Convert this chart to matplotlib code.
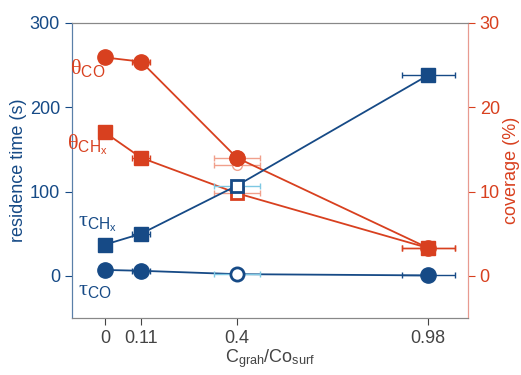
import numpy as np
import matplotlib.pyplot as plt

plt.rcParams['font.family'] = ['Liberation Sans', 'DejaVu Sans']
plt.rcParams['mathtext.fontset'] = 'custom'
plt.rcParams['mathtext.rm'] = 'Liberation Serif'
plt.rcParams['mathtext.sf'] = 'Liberation Sans'
plt.rcParams['mathtext.it'] = 'Liberation Serif:italic'

navy = '#164a86'
red = '#d8401f'
light_blue = '#7ec8e3'
light_red = '#f0a08c'

ratio = [0, 0.11, 0.4, 0.98]
ratio_err = [0, 0.027, 0.05, 0.08]
ratio_err_alt = 0.07

# residence times (s)
tau_co = [7, 6, 2, 0.5]
tau_chx = [37, 50, 107, 238]
# coverages (%)
theta_co = [25.9, 25.4, 14.0, 3.3]
theta_co_alt = 13.1
theta_chx = [17.0, 14.0, 9.8, 3.3]

fig = plt.figure(figsize=(5.21, 3.75), dpi=100)
ax = fig.add_axes([0.138, 0.152, 0.76, 0.787])
ax2 = ax.twinx()


def draw(axis, y, color, marker, open_color, ms):
    axis.plot(ratio, y, '-', color=color, lw=1.3, zorder=2)
    # filled points with x error bars
    for i in [0, 1, 3]:
        axis.errorbar(ratio[i], y[i], xerr=ratio_err[i] if ratio_err[i] else None,
                      fmt=marker, color=color, ms=ms, capsize=2.5, elinewidth=1,
                      zorder=3)
    # open point at 0.4 with lighter error bar
    axis.errorbar(ratio[2], y[2], xerr=ratio_err_alt, fmt='none',
                  ecolor=open_color, elinewidth=1, capsize=2.5, zorder=3)
    axis.plot(ratio[2], y[2], marker, mfc='white', mec=color, mew=2,
              ms=ms - 1.5, zorder=4)


draw(ax2, theta_co, red, 'o', light_red, 11)
ax2.errorbar(ratio[2], theta_co_alt, xerr=ratio_err_alt, fmt='o', mfc='white',
             mec=light_red, ecolor=light_red, ms=7, capsize=2.5, elinewidth=1,
             zorder=1)
ax2.plot(ratio[2], theta_co[2], 'o', color=red, ms=11, zorder=4)
draw(ax2, theta_chx, red, 's', light_red, 9.5)
draw(ax, tau_co, navy, 'o', light_blue, 11)
draw(ax, tau_chx, navy, 's', light_blue, 9.5)

ax.set_zorder(ax2.get_zorder() + 1)
ax.patch.set_visible(False)

ax.set_xlim(-0.1, 1.1)
ax.set_ylim(-50, 300)
ax2.set_ylim(-5, 30)
ax.set_xticks(ratio)
ax.set_xticklabels(['0', '0.11', '0.4', '0.98'])
ax.set_yticks([0, 100, 200, 300])
ax2.set_yticks([0, 10, 20, 30])

ax.tick_params(axis='x', colors='#444444', labelsize=13, length=5)
ax.tick_params(axis='y', colors=navy, labelsize=13, length=5)
ax2.tick_params(axis='y', colors=red, labelsize=13, length=5)
ax.set_ylabel('residence time (s)', color=navy, fontsize=13, labelpad=2)
ax2.set_ylabel('coverage (%)', color=red, fontsize=13, labelpad=2)
ax.set_xlabel(r'C$_{\mathsf{grah}}$/Co$_{\mathsf{surf}}$', color='#444444',
              fontsize=13, labelpad=0)

for a in (ax, ax2):
    a.spines['top'].set_color('#888888')
    a.spines['bottom'].set_color('#888888')
    a.spines['left'].set_color('#5a7fa8')
    a.spines['right'].set_color('#e89a90')

labels = [
    (-0.053, 247, r'$\mathrm{\theta}_{\mathsf{CO}}$', red),
    (-0.053, 155, r'$\mathrm{\theta}_{\mathsf{CH}_{\mathsf{x}}}$', red),
    (-0.022, 62, r'$\mathrm{\tau}_{\mathsf{CH}_{\mathsf{x}}}$', navy),
    (-0.03, -16, r'$\mathrm{\tau}_{\mathsf{CO}}$', navy),
]
for lx, ly, s, c in labels:
    ax.text(lx, ly, s, color=c, fontsize=16, ha='center', va='center')

fig.savefig('out.png', dpi=100)
